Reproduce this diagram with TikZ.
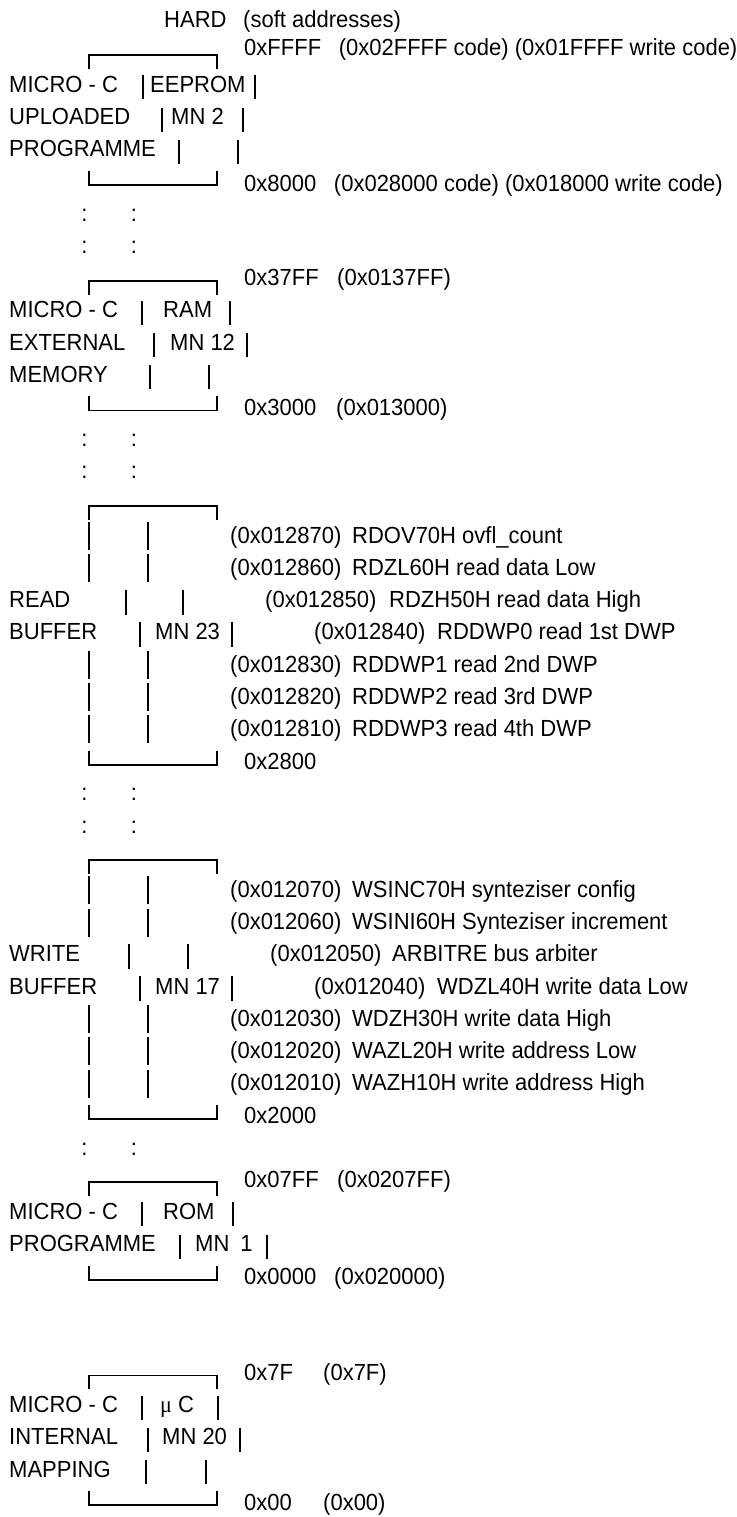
\documentclass[tikz,border=0pt]{standalone}
\usepackage{graphicx}
\usepackage{fontspec}
\setmainfont{Liberation Sans}
\newfontfamily\mufont{Liberation Serif}
\newcommand\V[1]{\scalebox{1}[1.06]{#1}}
\begin{document}
\begin{tikzpicture}[x=1pt,y=-1pt,
  declare function={ry(\k)=20+(\k-1)*32.2;},
  txt/.style={anchor=base west,inner sep=0pt,font=\fontsize{22}{24}\selectfont},
  colon/.style={anchor=base,inner sep=0pt,font=\fontsize{22}{24}\selectfont},
  boxl/.style={line width=1.8pt},
  bar/.style={line width=1.6pt}]
\useasboundingbox (0,0) rectangle (736,1517);
% ---------- EEPROM ----------
\node[txt] (hard) at (164,{ry(1)+8}) {\V{HARD}};
\node[txt] (soft) at (243,{ry(1)+8}) {\V{(soft addresses)}};
\draw[boxl] (89,{ry(2)+17}) -- (89,{ry(2)+3}) -- (217,{ry(2)+3}) -- (217,{ry(2)+17});
\node[txt] (aFFFF) at (244,{ry(2)+3}) {\V{0xFFFF\hspace{0.8em}(0x02FFFF code) (0x01FFFF write code)}};
\node[txt] (l3) at (9,{ry(3)+8}) {\V{MICRO - C}};
\draw[bar] (143,{ry(3)-9}) -- (143,{ry(3)+15});
\node[txt] (eeprom) at (150,{ry(3)+8}) {\V{EEPROM}};
\draw[bar] (255,{ry(3)-9}) -- (255,{ry(3)+15});
\node[txt] (l4) at (9,{ry(4)+8}) {\V{UPLOADED}};
\draw[bar] (162,{ry(4)-9}) -- (162,{ry(4)+15});
\node[txt] (mn2) at (171,{ry(4)+8}) {\V{MN 2}};
\draw[bar] (243,{ry(4)-9}) -- (243,{ry(4)+15});
\node[txt] (l5) at (9,{ry(5)+8}) {\V{PROGRAMME}};
\draw[bar] (179,{ry(5)-9}) -- (179,{ry(5)+15});
\draw[bar] (238,{ry(5)-9}) -- (238,{ry(5)+15});
\draw[boxl] (89,{ry(6)-10}) -- (89,{ry(6)+4}) -- (217,{ry(6)+4}) -- (217,{ry(6)-10});
\node[txt] (a8000) at (244,{ry(6)+11}) {\V{0x8000\hspace{0.8em}(0x028000 code) (0x018000 write code)}};
\foreach \k in {7,8,14,15,25,26,36}{
  \node[colon] (ca\k) at (84.5,{ry(\k)+8}) {\V{:}};
  \node[colon] (cb\k) at (134,{ry(\k)+8}) {\V{:}};
}
% ---------- RAM ----------
\draw[boxl] (89,{ry(9)+17}) -- (89,{ry(9)+3}) -- (217,{ry(9)+3}) -- (217,{ry(9)+17});
\node[txt] (a37FF) at (244,{ry(9)+8}) {\V{0x37FF}};
\node[txt] (s37FF) at (337,{ry(9)+8}) {\V{(0x0137FF)}};
\node[txt] (l10) at (9,{ry(10)+8}) {\V{MICRO - C}};
\draw[bar] (142,{ry(10)-9}) -- (142,{ry(10)+15});
\node[txt] (ram) at (163,{ry(10)+8}) {\V{RAM}};
\draw[bar] (230,{ry(10)-9}) -- (230,{ry(10)+15});
\node[txt] (l11) at (9,{ry(11)+8}) {\V{EXTERNAL}};
\draw[bar] (154,{ry(11)-9}) -- (154,{ry(11)+15});
\node[txt] (mn12) at (170,{ry(11)+8}) {\V{MN 12}};
\draw[bar] (247,{ry(11)-9}) -- (247,{ry(11)+15});
\node[txt] (l12) at (9,{ry(12)+8}) {\V{MEMORY}};
\draw[bar] (150,{ry(12)-9}) -- (150,{ry(12)+15});
\draw[bar] (209,{ry(12)-9}) -- (209,{ry(12)+15});
\draw[boxl] (89,{ry(13)-10}) -- (89,{ry(13)+4}) -- (217,{ry(13)+4}) -- (217,{ry(13)-10});
\node[txt] (a3000) at (244,{ry(13)+9}) {\V{0x3000}};
\node[txt] (s3000) at (336,{ry(13)+9}) {\V{(0x013000)}};
% ---------- READ BUFFER ----------
\draw[boxl] (89,{ry(16)+17}) -- (89,{ry(16)+3}) -- (217,{ry(16)+3}) -- (217,{ry(16)+17});
\foreach \k/\ad/\tx in {17/0x012870/RDOV70H ovfl\_count,18/0x012860/RDZL60H read data Low,
   21/0x012830/RDDWP1 read 2nd DWP,22/0x012820/RDDWP2 read 3rd DWP,23/0x012810/RDDWP3 read 4th DWP}{
  \draw[bar] (89,{ry(\k)-13}) -- (89,{ry(\k)+15});
  \draw[bar] (148,{ry(\k)-13}) -- (148,{ry(\k)+15});
  \node[txt] (ra\k) at (230,{ry(\k)+8}) {\V{(\ad)}};
  \node[txt] (rt\k) at (352,{ry(\k)+8}) {\V{\tx}};
}
\node[txt] (read) at (9,{ry(19)+8}) {\V{READ}};
\draw[bar] (126,{ry(19)-10}) -- (126,{ry(19)+15});
\draw[bar] (183,{ry(19)-10}) -- (183,{ry(19)+15});
\node[txt] (ra19) at (265,{ry(19)+8}) {\V{(0x012850)}};
\node[txt] (rt19) at (389,{ry(19)+8}) {\V{RDZH50H read data High}};
\node[txt] (rbuf) at (9,{ry(20)+8}) {\V{BUFFER}};
\draw[bar] (140,{ry(20)-10}) -- (140,{ry(20)+15});
\node[txt] (mn23) at (155,{ry(20)+8}) {\V{MN 23}};
\draw[bar] (232,{ry(20)-10}) -- (232,{ry(20)+15});
\node[txt] (ra20) at (314,{ry(20)+8}) {\V{(0x012840)}};
\node[txt] (rt20) at (437,{ry(20)+8}) {\V{RDDWP0 read 1st DWP}};
\draw[boxl] (89,{ry(24)-10}) -- (89,{ry(24)+4}) -- (217,{ry(24)+4}) -- (217,{ry(24)-10});
\node[txt] (a2800) at (244,{ry(24)+9}) {\V{0x2800}};
% ---------- WRITE BUFFER ----------
\draw[boxl] (89,{ry(27)+17}) -- (89,{ry(27)+3}) -- (217,{ry(27)+3}) -- (217,{ry(27)+17});
\foreach \k/\ad/\tx in {28/0x012070/WSINC70H synteziser config,29/0x012060/WSINI60H Synteziser increment,
   32/0x012030/WDZH30H write data High,33/0x012020/WAZL20H write address Low,34/0x012010/WAZH10H write address High}{
  \draw[bar] (89,{ry(\k)-13}) -- (89,{ry(\k)+15});
  \draw[bar] (148,{ry(\k)-13}) -- (148,{ry(\k)+15});
  \node[txt] (wa\k) at (230,{ry(\k)+8}) {\V{(\ad)}};
  \node[txt] (wt\k) at (352,{ry(\k)+8}) {\V{\tx}};
}
\node[txt] (write) at (9,{ry(30)+8}) {\V{WRITE}};
\draw[bar] (129,{ry(30)-10}) -- (129,{ry(30)+15});
\draw[bar] (188,{ry(30)-10}) -- (188,{ry(30)+15});
\node[txt] (wa30) at (270,{ry(30)+8}) {\V{(0x012050)}};
\node[txt] (wt30) at (392,{ry(30)+8}) {\V{ARBITRE bus arbiter}};
\node[txt] (wbuf) at (9,{ry(31)+8}) {\V{BUFFER}};
\draw[bar] (140,{ry(31)-10}) -- (140,{ry(31)+15});
\node[txt] (mn17) at (155,{ry(31)+8}) {\V{MN 17}};
\draw[bar] (232,{ry(31)-10}) -- (232,{ry(31)+15});
\node[txt] (wa31) at (314,{ry(31)+8}) {\V{(0x012040)}};
\node[txt] (wt31) at (437,{ry(31)+8}) {\V{WDZL40H write data Low}};
\draw[boxl] (89,{ry(35)-10}) -- (89,{ry(35)+4}) -- (217,{ry(35)+4}) -- (217,{ry(35)-10});
\node[txt] (a2000) at (244,{ry(35)+9}) {\V{0x2000}};
% ---------- ROM ----------
\draw[boxl] (89,{ry(37)+17}) -- (89,{ry(37)+3}) -- (217,{ry(37)+3}) -- (217,{ry(37)+17});
\node[txt] (a07FF) at (244,{ry(37)+8}) {\V{0x07FF}};
\node[txt] (s07FF) at (337,{ry(37)+8}) {\V{(0x0207FF)}};
\node[txt] (l38) at (9,{ry(38)+8}) {\V{MICRO - C}};
\draw[bar] (142,{ry(38)-9}) -- (142,{ry(38)+15});
\node[txt] (rom) at (163,{ry(38)+8}) {\V{ROM}};
\draw[bar] (233,{ry(38)-9}) -- (233,{ry(38)+15});
\node[txt] (l39) at (9,{ry(39)+8}) {\V{PROGRAMME}};
\draw[bar] (180,{ry(39)-9}) -- (180,{ry(39)+15});
\node[txt] (mn1) at (195,{ry(39)+8}) {\V{MN\hspace{11pt}1}};
\draw[bar] (267,{ry(39)-9}) -- (267,{ry(39)+15});
\draw[boxl] (89,{ry(40)-10}) -- (89,{ry(40)+4}) -- (217,{ry(40)+4}) -- (217,{ry(40)-10});
\node[txt] (a0000) at (244,{ry(40)+9}) {\V{0x0000}};
\node[txt] (s0000) at (334,{ry(40)+9}) {\V{(0x020000)}};
% ---------- uC ----------
\draw[boxl] (89,{ry(43)+17}) -- (89,{ry(43)+3}) -- (217,{ry(43)+3}) -- (217,{ry(43)+17});
\node[txt] (a7F) at (244,{ry(43)+8}) {\V{0x7F}};
\node[txt] (s7F) at (323,{ry(43)+8}) {\V{(0x7F)}};
\node[txt] (l44) at (9,{ry(44)+8}) {\V{MICRO - C}};
\draw[bar] (142,{ry(44)-9}) -- (142,{ry(44)+15});
\node[txt] (uc) at (160,{ry(44)+8}) {\V{{\mufont μ} C}};
\draw[bar] (218,{ry(44)-9}) -- (218,{ry(44)+15});
\node[txt] (l45) at (9,{ry(45)+8}) {\V{INTERNAL}};
\draw[bar] (148,{ry(45)-9}) -- (148,{ry(45)+15});
\node[txt] (mn20) at (162,{ry(45)+8}) {\V{MN 20}};
\draw[bar] (240,{ry(45)-9}) -- (240,{ry(45)+15});
\node[txt] (l46) at (9,{ry(46)+8}) {\V{MAPPING}};
\draw[bar] (146,{ry(46)-9}) -- (146,{ry(46)+15});
\draw[bar] (206,{ry(46)-9}) -- (206,{ry(46)+15});
\draw[boxl] (89,{ry(47)-10}) -- (89,{ry(47)+4}) -- (217,{ry(47)+4}) -- (217,{ry(47)-10});
\node[txt] (a00) at (244,{ry(47)+9}) {\V{0x00}};
\node[txt] (s00) at (323,{ry(47)+9}) {\V{(0x00)}};
\end{tikzpicture}
\end{document}
